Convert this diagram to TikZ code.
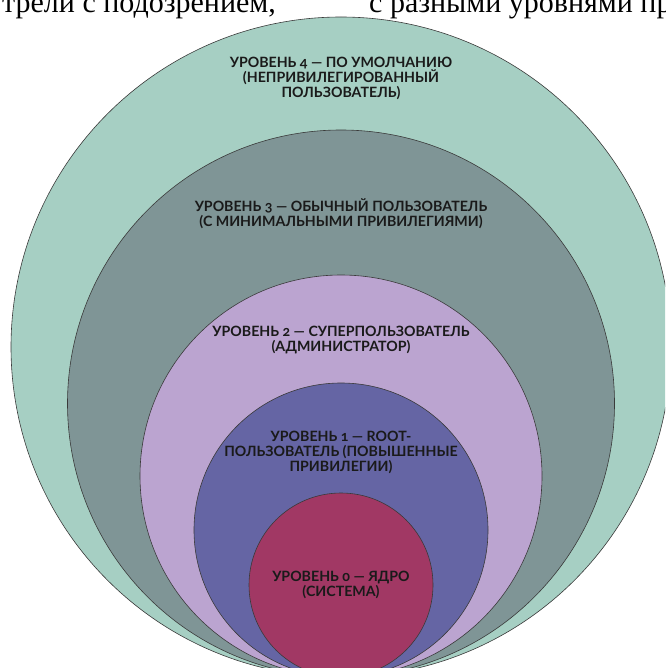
\documentclass[tikz,border=0pt]{standalone}
\usepackage{fontspec}
\setmainfont{Liberation Serif}
\newfontfamily\lbl[Numbers=OldStyle]{Lato}
\definecolor{cfour}{HTML}{A6CFC3}
\definecolor{cthree}{HTML}{7F9596}
\definecolor{ctwo}{HTML}{BBA4D0}
\definecolor{cone}{HTML}{6565A4}
\definecolor{czero}{HTML}{A13864}
\definecolor{edgec}{HTML}{3A3A3A}
\definecolor{txtc}{HTML}{1A1A1A}
\begin{document}
\begin{tikzpicture}[x=1pt,y=-1pt,
  ring/.style={circle, draw=edgec, line width=0.6pt, inner sep=0pt},
  lvl/.style={align=center, font=\lbl\bfseries\fontsize{14.2}{15}\selectfont, text=txtc, inner sep=0pt, anchor=base},
  toptext/.style={anchor=base west, inner sep=0pt, font=\fontsize{30}{30}\selectfont}]
\useasboundingbox (0,0) rectangle (665,668);
\clip (0,0) rectangle (665,668);
\node[toptext] (t1) at (2,12.5) {трели с подозрением,};
\node[toptext] (t2) at (369,12.5) {с разными уровнями пр};
\node[ring, fill=cfour, minimum size=660pt] (r4) at (341,347) {};
\node[ring, fill=cthree, minimum size=547pt] (r3) at (341,403.5) {};
\node[ring, fill=ctwo, minimum size=402pt] (r2) at (341,476) {};
\node[ring, fill=cone, minimum size=294pt] (r1) at (341,530) {};
\node[ring, fill=czero, minimum size=184pt] (r0) at (341,585) {};
\node[lvl] (l4) at (341,97.5) {УРОВЕНЬ 4 — ПО УМОЛЧАНИЮ\\(НЕПРИВИЛЕГИРОВАННЫЙ\\ПОЛЬЗОВАТЕЛЬ)};
\node[lvl] (l3) at (341,226.5) {УРОВЕНЬ 3 — ОБЫЧНЫЙ ПОЛЬЗОВАТЕЛЬ\\(С МИНИМАЛЬНЫМИ ПРИВИЛЕГИЯМИ)};
\node[lvl] (l2) at (341,351.7) {УРОВЕНЬ 2 — СУПЕРПОЛЬЗОВАТЕЛЬ\\(АДМИНИСТРАТОР)};
\node[lvl] (l1) at (341,471.7) {УРОВЕНЬ 1 — ROOT-\\ПОЛЬЗОВАТЕЛЬ (ПОВЫШЕННЫЕ\\ПРИВИЛЕГИИ)};
\node[lvl] (l0) at (341,596.7) {УРОВЕНЬ 0 — ЯДРО\\(СИСТЕМА)};
\end{tikzpicture}
\end{document}
